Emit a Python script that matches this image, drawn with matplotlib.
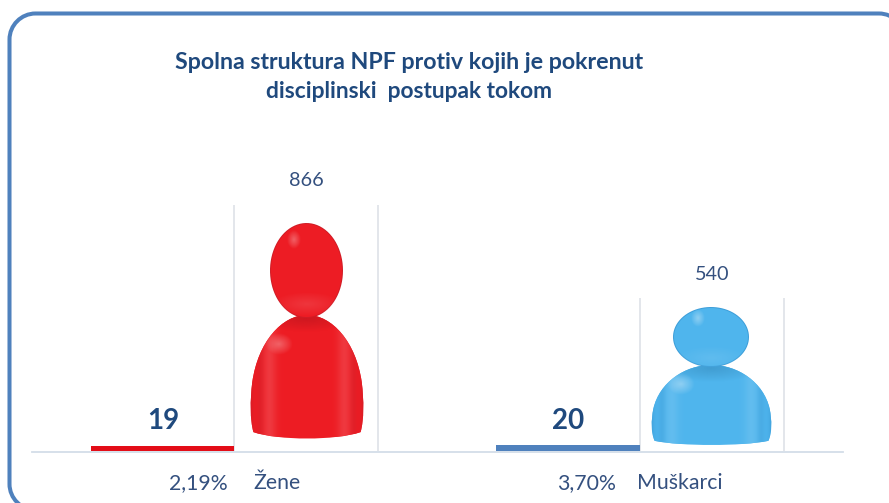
import numpy as np
import matplotlib
matplotlib.use("Agg")
import matplotlib.pyplot as plt
from matplotlib.colors import to_hex, to_rgb
from matplotlib.patches import PathPatch
from matplotlib.path import Path

title_lines = ["Spolna struktura NPF protiv kojih je pokrenut", "disciplinski  postupak tokom"]
categories = ["Žene", "Muškarci"]
totals = [866, 540]
cases = [19, 20]
shares = ["2,19%", "3,70%"]

W, H = 889, 503
NAVY = "#1F497D"
TXT = "#34507F"
plt.rcParams["font.family"] = ["Lato", "DejaVu Sans"]

fig = plt.figure(figsize=(W / 100, H / 100), dpi=100, facecolor="white")
ax = fig.add_axes([0, 0, 1, 1])
BASE = 451
SCALE = 0.284  # pixels per person
ax.set_xlim(0, W)
ax.set_ylim(-(H - BASE) / SCALE, BASE / SCALE)
ax.axis("off")


def py(p):
    """Pixel row to data value."""
    return (BASE - p) / SCALE


# rounded frame
x0, x1, y0, y1, r = 9.5, 905, 13.5, 510, 26
k = 0.55 * r
frame = Path(
    [(x0, py(y0 + r)), (x0, py(y0 + r - k)), (x0 + r - k, py(y0)), (x0 + r, py(y0)),
     (x1 - r, py(y0)), (x1 - r + k, py(y0)), (x1, py(y0 + r - k)), (x1, py(y0 + r)),
     (x1, py(y1 - r)), (x1, py(y1 - r + k)), (x1 - r + k, py(y1)), (x1 - r, py(y1)),
     (x0 + r, py(y1)), (x0 + r - k, py(y1)), (x0, py(y1 - r + k)), (x0, py(y1 - r)),
     (x0, py(y0 + r))],
    [Path.MOVETO, Path.CURVE4, Path.CURVE4, Path.CURVE4, Path.LINETO,
     Path.CURVE4, Path.CURVE4, Path.CURVE4, Path.LINETO,
     Path.CURVE4, Path.CURVE4, Path.CURVE4, Path.LINETO,
     Path.CURVE4, Path.CURVE4, Path.CURVE4, Path.CLOSEPOLY])
ax.add_patch(PathPatch(frame, fc="white", ec="#4F81BD", lw=2.9, zorder=1))


def ell(cx, cy, rx, ry, n=80):
    t = np.linspace(0, 2 * np.pi, n)
    return np.c_[cx + rx * np.cos(t), py(cy) + ry / SCALE * np.sin(t)]


def body_path(xa, xb, top, bot):
    w = xb - xa
    h = bot - top
    pts = [(0.03, 0.96),
           (0.0, 0.86), (0.0, 0.70), (0.02, 0.55),
           (0.07, 0.22), (0.28, 0.0), (0.5, 0.0),
           (0.72, 0.0), (0.93, 0.22), (0.98, 0.55),
           (1.0, 0.70), (1.0, 0.86), (0.97, 0.96),
           (0.75, 1.03), (0.25, 1.03), (0.03, 0.96)]
    v = [(xa + a * w, py(top + b * h)) for a, b in pts]
    c = [Path.MOVETO] + [Path.CURVE4] * 15
    return Path(v, c)


def shaded(clip, ext, base, dark, light):
    """Horizontal shading clipped to a person's body."""
    xa, xb, top, bot = ext
    u = np.linspace(0, 1, 200)
    ramp = (np.exp(-((u - 0.17) / 0.06) ** 2) + np.exp(-((u - 0.83) / 0.06) ** 2)) * 0.38
    fold = (np.exp(-((u - 0.09) / 0.03) ** 2) + np.exp(-((u - 0.91) / 0.03) ** 2)) * 0.4
    edge = np.exp(-u / 0.02) + np.exp(-(1 - u) / 0.02)
    base, dark, light = map(np.array, (base, dark, light))
    col = (base[None, :] + ramp[:, None] * (light - base)
           + np.clip(edge + fold, 0, 1)[:, None] * (dark - base))
    img = ax.imshow(np.clip(col, 0, 1)[None, :, :], extent=(xa, xb, py(bot), py(top)), aspect="auto",
                    zorder=4, interpolation="bilinear")
    img.set_clip_path(PathPatch(clip, transform=ax.transData))


def glow(cx, cy, rx, ry, colour, alpha, z, clip=None):
    yy, xx = np.mgrid[-1:1:60j, -1:1:60j]
    rgba = np.zeros((60, 60, 4))
    rgba[..., :3] = to_rgb(colour)
    rgba[..., 3] = np.clip(1 - np.hypot(xx, yy), 0, 1) ** 0.9 * alpha
    im = ax.imshow(rgba, extent=(cx - rx, cx + rx, py(cy + ry), py(cy - ry)), aspect="auto", zorder=z,
                   interpolation="bilinear")
    if clip is not None:
        im.set_clip_path(PathPatch(clip, transform=ax.transData))


def person(card_x, total, head, body, base, dark, light, hi, neck):
    ax.bar(card_x, total, width=144, align="edge", color="white", zorder=2)
    for xx in (card_x, card_x + 144):
        ax.plot([xx, xx], [0, total], color="#DEE2E7", lw=1.2, zorder=3, solid_capstyle="butt")
    # body
    bp = body_path(*body)
    ax.add_patch(PathPatch(bp, fc=to_hex(base), ec="none", zorder=3.5))
    shaded(bp, body, base, dark, light)
    cx = (head[0] + head[1]) / 2
    rx = (head[1] - head[0]) / 2
    ry = (head[3] - head[2]) / 2
    cy = (head[2] + head[3]) / 2
    glow(cx, body[2] + 3, rx * 1.3, 14, neck, 0.7, 5, bp)
    glow(body[0] + (body[1] - body[0]) * 0.25, body[2] + (body[3] - body[2]) * 0.24,
         14, 11, hi, 0.5, 6, bp)
    # head
    hp = Path(ell(cx, cy, rx, ry))
    ax.add_patch(PathPatch(hp, fc=to_hex(dark), ec="none", zorder=7))
    ax.add_patch(PathPatch(Path(ell(cx, cy, rx - 1, ry - 1)), fc=to_hex(base), ec="none", zorder=7.1))
    glow(cx - rx * 0.33, head[2] + ry * 0.36, 7, 9, hi, 0.5, 7.2)
    glow(cx, head[3] - ry * 0.3, rx * 0.95, 12, light, 0.35, 7.2, hp)


red = ((0.93, 0.11, 0.14), (0.82, 0.11, 0.15), (0.95, 0.40, 0.42))
blue = ((0.31, 0.71, 0.93), (0.24, 0.62, 0.85), (0.50, 0.79, 0.95))

# baseline
ax.plot([32, 843], [-3.5, -3.5], color="#D3DDE8", lw=1.3, zorder=2)

person(234, totals[0], (270, 343, 223, 318), (250, 364, 315, 437), *red, "#F6A5A8", "#C0161F")
person(640, totals[1], (673, 749, 307, 367), (651, 772, 365, 444), *blue, "#CDE9F8", "#3B93C6")

# thin case bars
card_left = [234, 640]
ax.bar(card_left[0] - 143, cases[0], width=143, align="edge", color="#E30D17", zorder=3)
ax.bar(card_left[1] - 144, cases[1], width=144, align="edge", color="#4F81BD", zorder=3)

# labels
for cxp, lx, i in ((163, 306, 0), (568, 712, 1)):
    ax.text(cxp, py(421), str(cases[i]), ha="center", va="center", fontsize=20, fontweight="bold",
            color=NAVY, zorder=9)
    ax.text(lx, py(180 if i == 0 else 274), str(totals[i]), ha="center", va="center", fontsize=14.3,
            color=TXT, zorder=9)

ax.text(228, py(483), shares[0], ha="right", va="center", fontsize=15.3, color=TXT, zorder=9)
ax.text(253, py(483), categories[0], ha="left", va="center", fontsize=15.3, color=TXT, zorder=9)
ax.text(616, py(483), shares[1], ha="right", va="center", fontsize=15.3, color=TXT, zorder=9)
ax.text(637, py(483), categories[1], ha="left", va="center", fontsize=15.3, color=TXT, zorder=9)

ax.text(409.5, py(62), title_lines[0], ha="center", va="center", fontsize=16.7, fontweight="bold",
        color=NAVY, zorder=9)
ax.text(409.5, py(92), title_lines[1], ha="center", va="center", fontsize=16.4, fontweight="bold",
        color=NAVY, zorder=9)

ax.set_xlim(0, W)
ax.set_ylim(-(H - BASE) / SCALE, BASE / SCALE)
fig.savefig("out.png", dpi=100, facecolor="white")
